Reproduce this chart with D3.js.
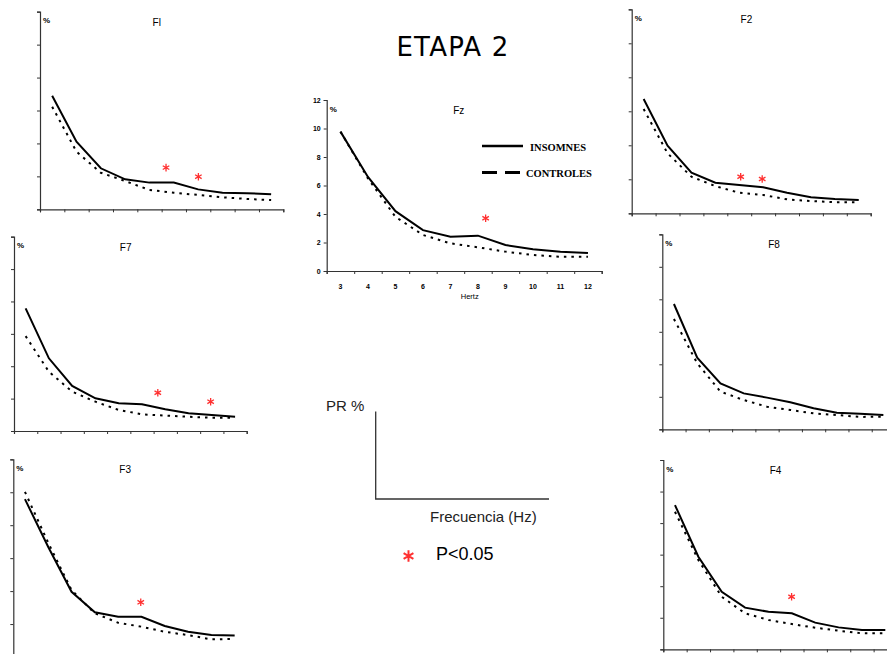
<!DOCTYPE html>
<html>
<head>
<meta charset="utf-8">
<script src="https://cdn.jsdelivr.net/npm/d3@7"></script>
<style>
  body { margin: 0; background: #fff; }
  svg { display: block; }
</style>
</head>
<body>
<div id="chart"></div>
<script>
// frequency bins (Hz) shared by every panel
const hertz = [3, 4, 5, 6, 7, 8, 9, 10, 11, 12];
const yTicks = [0, 2, 4, 6, 8, 10, 12];

// relative power (%)
const insF1 = [6.9, 4.1, 2.49, 1.82, 1.62, 1.62, 1.21, 1.01, 0.98, 0.91];
const ctrF1 = [6.23, 3.5, 2.22, 1.72, 1.17, 1.01, 0.87, 0.73, 0.63, 0.56];
const insF2 = [6.72, 3.98, 2.39, 1.8, 1.66, 1.53, 1.21, 0.94, 0.84, 0.78];
const ctrF2 = [6.13, 3.53, 2.15, 1.6, 1.21, 1.08, 0.82, 0.72, 0.65, 0.65];
const insF7 = [7.57, 4.49, 2.78, 2.02, 1.71, 1.65, 1.34, 1.09, 0.99, 0.88];
const ctrF7 = [5.86, 3.66, 2.43, 1.81, 1.3, 1.03, 0.95, 0.88, 0.82, 0.82];
const insF8 = [7.71, 4.41, 2.83, 2.21, 1.95, 1.66, 1.29, 1.02, 0.96, 0.88];
const ctrF8 = [6.79, 4.06, 2.32, 1.8, 1.39, 1.19, 0.98, 0.88, 0.76, 0.78];
const insF3 = [9.58, 6.68, 3.96, 2.71, 2.44, 2.44, 1.88, 1.53, 1.33, 1.31];
const ctrF3 = [10.02, 6.93, 4.06, 2.65, 2.08, 1.84, 1.53, 1.33, 1.07, 1.1];
const insF4 = [9.14, 5.87, 3.65, 2.64, 2.38, 2.28, 1.69, 1.39, 1.22, 1.22];
const ctrF4 = [8.72, 5.66, 3.33, 2.28, 1.86, 1.6, 1.37, 1.18, 1.01, 1.01];
const insFz = [9.78, 6.6, 4.2, 2.87, 2.4, 2.48, 1.82, 1.52, 1.35, 1.26];
const ctrFz = [9.78, 6.5, 3.8, 2.53, 1.94, 1.66, 1.36, 1.12, 1.0, 1.0];

// significant differences (p<0.05): [Hz, %]
const starsF1 = [[7.68, 2.53], [9.01, 1.98]];
const starsF2 = [[7.06, 2.15], [7.96, 2.02]];
const starsF7 = [[8.68, 2.36], [10.95, 1.81]];
const starsF8 = [];
const starsF3 = [[7.97, 3.32]];
const starsF4 = [[7.99, 3.33]];
const starsFz = [[8.28, 3.7]];

const width = 887, height = 654;

const svg = d3.select('#chart').append('svg')
  .attr('width', width)
  .attr('height', height);

// panel placement on the page
const panels = [
  { name: 'Fl', ins: insF1, ctr: ctrF1, stars: starsF1, left: 40, right: 283.3, bottom: 209.3, top: 11.7 },
  { name: 'F2', ins: insF2, ctr: ctrF2, stars: starsF2, left: 631.7, right: 870.7, bottom: 213.3, top: 9.3 },
  { name: 'F7', ins: insF7, ctr: ctrF7, stars: starsF7, left: 14, right: 246.7, bottom: 431, top: 236.7 },
  { name: 'F8', ins: insF8, ctr: ctrF8, stars: starsF8, left: 662.3, right: 895, bottom: 429.3, top: 234.3 },
  { name: 'F3', ins: insF3, ctr: ctrF3, stars: starsF3, left: 13.3, right: 246.3, bottom: 657, top: 459.3 },
  { name: 'F4', ins: insF4, ctr: ctrF4, stars: starsF4, left: 663.3, right: 897, bottom: 649.3, top: 460 },
  { name: 'Fz', ins: insFz, ctr: ctrFz, stars: starsFz, left: 326.7, right: 601.7, bottom: 271, top: 100, labels: true }
];

const star = d3.symbol().type(d3.symbolAsterisk);

panels.forEach(p => {
  const g = svg.append('g');

  const x = d3.scaleLinear().domain([2.5, 12.5]).range([p.left, p.right]);
  const y = d3.scaleLinear().domain([0, 12]).range([p.bottom, p.top]);

  const xAxis = d3.axisBottom(x)
    .tickValues(d3.range(2.5, 12.6, 1))
    .tickSize(3)
    .tickFormat('');
  const yAxis = d3.axisLeft(y)
    .tickValues(yTicks)
    .tickSize(3)
    .tickFormat(p.labels ? d3.format('d') : '');

  const ga = g.append('g').attr('transform', `translate(0,${p.bottom})`).call(xAxis);
  const gy = g.append('g').attr('transform', `translate(${p.left},0)`).call(yAxis);
  [ga, gy].forEach(a => {
    a.select('.domain').attr('stroke', '#333').attr('stroke-width', 1.2);
    a.selectAll('.tick line').attr('stroke', '#333');
    a.selectAll('text').attr('font-family', 'Liberation Sans, Arial, sans-serif')
      .attr('font-size', 7).attr('font-weight', 'bold').attr('fill', '#000');
  });

  if (p.labels) {
    // category labels sit in the middle of each bin
    g.append('g').selectAll('text')
      .data(hertz)
      .join('text')
      .attr('x', d => x(d))
      .attr('y', p.bottom + 17.5)
      .attr('text-anchor', 'middle')
      .attr('font-family', 'Liberation Sans, Arial, sans-serif')
      .attr('font-size', 7)
      .attr('font-weight', 'bold')
      .attr('fill', '#000')
      .text(d => d);
    g.append('text')
      .attr('x', x(7.7))
      .attr('y', p.bottom + 27.5)
      .attr('text-anchor', 'middle')
      .attr('font-family', 'Liberation Sans, Arial, sans-serif')
      .attr('font-size', 7.5)
      .attr('fill', '#000')
      .text('Hertz');
  }

  g.append('text')
    .attr('x', p.left + 3)
    .attr('y', p.top + 11.5)
    .attr('font-family', 'Liberation Sans, Arial, sans-serif')
    .attr('font-size', 8)
    .attr('font-weight', 'bold')
    .text('%');

  g.append('text')
    .attr('x', x(7.3))
    .attr('y', p.top + 14)
    .attr('text-anchor', 'middle')
    .attr('font-family', 'Liberation Sans, Arial, sans-serif')
    .attr('font-size', 10)
    .text(p.name);

  const line = d3.line()
    .x((d, i) => x(hertz[i]))
    .y(d => y(d));

  g.append('path')
    .datum(p.ctr)
    .attr('d', line)
    .attr('fill', 'none')
    .attr('stroke', '#000')
    .attr('stroke-width', 2)
    .attr('stroke-dasharray', '2.5,5');

  g.append('path')
    .datum(p.ins)
    .attr('d', line)
    .attr('fill', 'none')
    .attr('stroke', '#000')
    .attr('stroke-width', 2);

  g.selectAll('.star')
    .data(p.stars)
    .join('path')
    .attr('class', 'star')
    .attr('transform', d => `translate(${x(d[0])},${y(d[1])})`)
    .attr('d', star.size(40)())
    .attr('fill', 'none')
    .attr('stroke', '#ff3030')
    .attr('stroke-width', 1.3);
});

// Fz legend
const leg = svg.append('g');
leg.append('line')
  .attr('x1', 482).attr('x2', 523).attr('y1', 146).attr('y2', 146)
  .attr('stroke', '#000').attr('stroke-width', 2.5);
leg.append('text')
  .attr('x', 530).attr('y', 150.5)
  .attr('font-family', 'Liberation Serif, Times New Roman, serif')
  .attr('font-weight', 'bold').attr('font-size', 10.5)
  .text('INSOMNES');
leg.append('line')
  .attr('x1', 482).attr('x2', 520).attr('y1', 172.5).attr('y2', 172.5)
  .attr('stroke', '#000').attr('stroke-width', 3)
  .attr('stroke-dasharray', '15,8');
leg.append('text')
  .attr('x', 526).attr('y', 176.5)
  .attr('font-family', 'Liberation Serif, Times New Roman, serif')
  .attr('font-weight', 'bold').attr('font-size', 10.5)
  .text('CONTROLES');

// page title
svg.append('text')
  .attr('x', 453).attr('y', 56)
  .attr('text-anchor', 'middle')
  .attr('font-family', 'DejaVu Sans, Verdana, sans-serif')
  .attr('font-size', 26)
  .attr('letter-spacing', 1.2)
  .text('ETAPA 2');

// axis key in the centre
const key = svg.append('g');
key.append('text')
  .attr('x', 326).attr('y', 411)
  .attr('font-family', 'Liberation Sans, Arial, sans-serif')
  .attr('font-size', 15).attr('fill', '#222')
  .text('PR %');
key.append('path')
  .attr('d', d3.line()([[375.7, 411.5], [375.7, 499], [549, 499]]))
  .attr('fill', 'none').attr('stroke', '#333').attr('stroke-width', 1.3);
key.append('text')
  .attr('x', 430).attr('y', 522)
  .attr('font-family', 'Liberation Sans, Arial, sans-serif')
  .attr('font-size', 15).attr('fill', '#222')
  .text('Frecuencia (Hz)');
key.append('path')
  .attr('transform', 'translate(408.5,556)')
  .attr('d', star.size(90)())
  .attr('fill', 'none').attr('stroke', '#ff3030').attr('stroke-width', 2);
key.append('text')
  .attr('x', 436).attr('y', 560)
  .attr('font-family', 'Liberation Sans, Arial, sans-serif')
  .attr('font-size', 18).attr('fill', '#000')
  .text('P<0.05');
</script>
</body>
</html>
